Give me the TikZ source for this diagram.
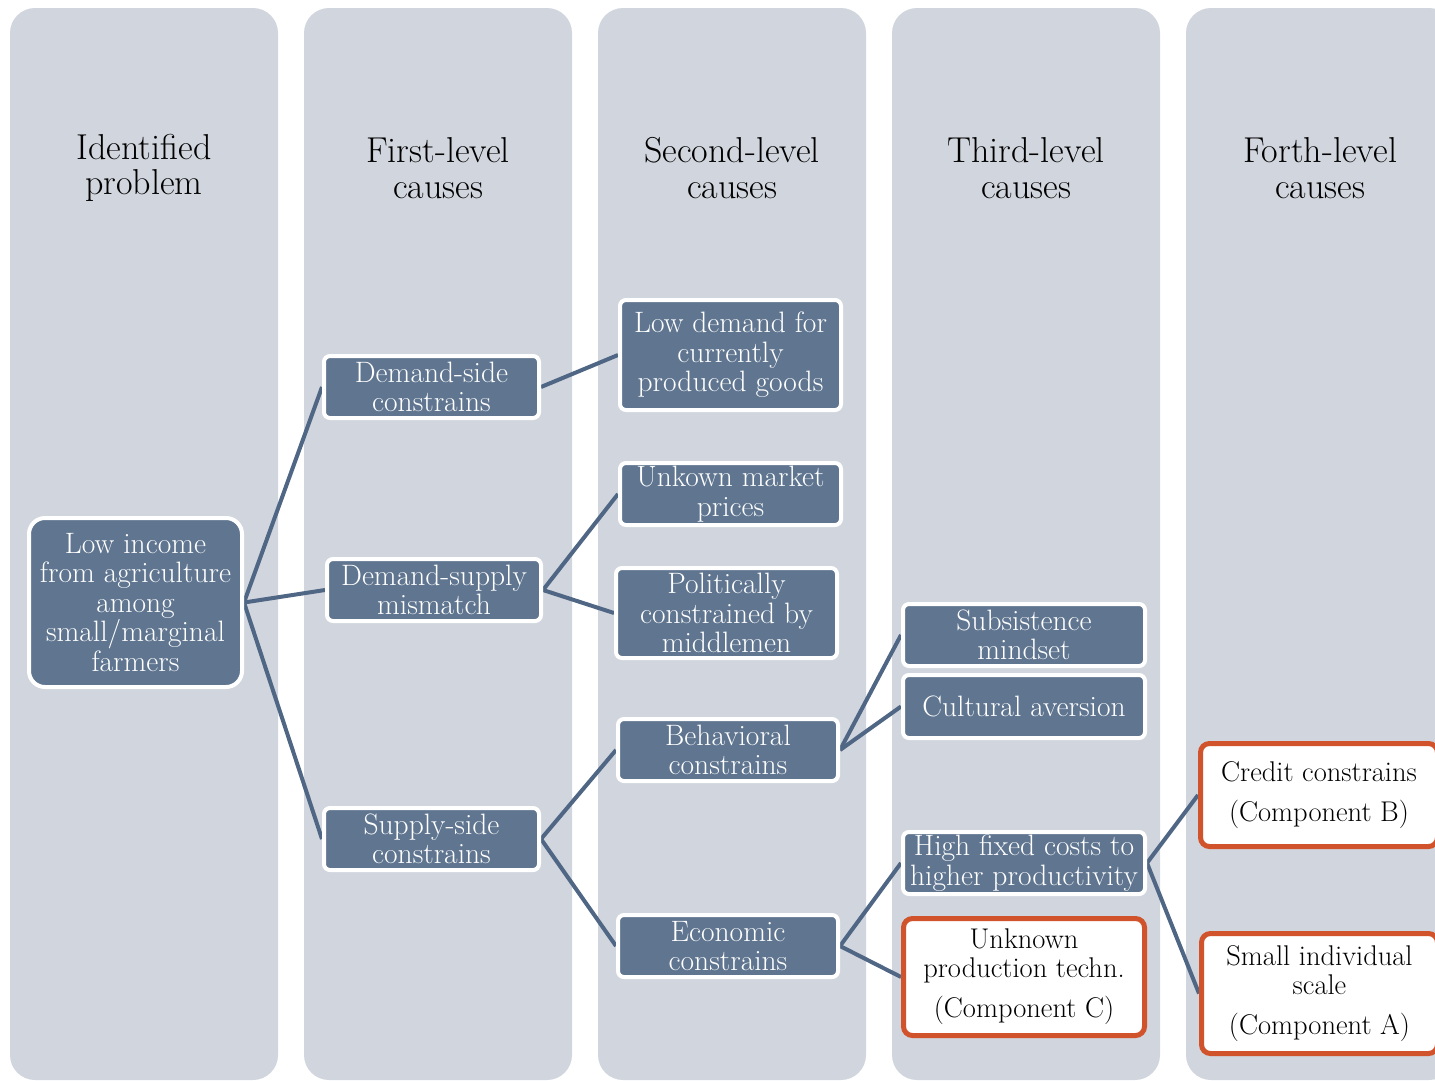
\documentclass[tikz,border=0pt]{standalone}
\pgfdeclarelayer{back}
\pgfdeclarelayer{lines}
\pgfsetlayers{back,lines,main}
\definecolor{colbg}{HTML}{D1D5DD}
\definecolor{slate}{HTML}{5F7590}
\definecolor{linec}{HTML}{4F6684}
\definecolor{orng}{HTML}{D0532B}
\tikzset{
  colbox/.style={fill=colbg, rounded corners=25pt},
  header/.style={align=center, font=\fontsize{36}{35.5}\selectfont, inner sep=0pt},
  cbox/.style={draw=white, line width=4pt, fill=slate, rounded corners=6pt, text=white,
    align=center, inner sep=0pt, font=\fontsize{29.5}{29.5}\selectfont},
  compbox/.style={draw=orng, line width=5pt, fill=white, rounded corners=9pt, text=black,
    align=center, inner sep=0pt, font=\fontsize{28.5}{29}\selectfont},
  conn/.style={draw=linec, line width=4pt}
}
\begin{document}
\begin{tikzpicture}[x=1pt,y=-1pt]
\useasboundingbox (0,0) rectangle (1435,1080);
\begin{pgfonlayer}{back}
\foreach \xx in {10,304,598,892,1186}{
  \path[colbox] (\xx,8) rectangle ++(268,1072);
}
\end{pgfonlayer}
% headers
\node[header] (h1) at (144,168) {Identified\\problem};
\node[header] (h2) at (438,168) {First-level\\causes};
\node[header] (h3) at (732,168) {Second-level\\causes};
\node[header] (h4) at (1026,168) {Third-level\\causes};
\node[header] (h5) at (1320,168) {Forth-level\\causes};
% boxes
\node[cbox, rounded corners=16pt, minimum width=213pt, minimum height=169pt] (low) at (135.5,602.5)
  {Low income\\from agriculture\\among\\small/marginal\\farmers};
\node[cbox, minimum width=215pt, minimum height=62pt] (ds) at (431.5,387) {Demand-side\\constrains};
\node[cbox, minimum width=214pt, minimum height=62pt] (dsm) at (434,590) {Demand-supply\\mismatch};
\node[cbox, minimum width=215pt, minimum height=62pt] (ss) at (431.5,839) {Supply-side\\constrains};
\node[cbox, minimum width=221pt, minimum height=110pt] (lowd) at (730.5,355) {Low demand for\\currently\\produced goods};
\node[cbox, minimum width=221pt, minimum height=62pt] (ump) at (730.5,494) {Unkown market\\prices};
\node[cbox, minimum width=221pt, minimum height=90pt] (pol) at (726.5,613) {Politically\\constrained by\\middlemen};
\node[cbox, minimum width=220pt, minimum height=62pt] (beh) at (728,750) {Behavioral\\constrains};
\node[cbox, minimum width=220pt, minimum height=62pt] (eco) at (728,946) {Economic\\constrains};
\node[cbox, minimum width=242pt, minimum height=62pt] (sub) at (1024,635) {Subsistence\\mindset};
\node[cbox, minimum width=242pt, minimum height=63pt] (cult) at (1024,706.5) {Cultural aversion};
\node[cbox, minimum width=242pt, minimum height=62pt] (hfc) at (1024,863) {High fixed costs to\\higher productivity};
\node[compbox, minimum width=241pt, minimum height=117pt] (upt) at (1024,977)
  {Unknown\\production techn.\\[11pt](Component C)};
\node[compbox, minimum width=237pt, minimum height=103pt] (cc) at (1319,795)
  {Credit constrains\\[11pt](Component B)};
\node[compbox, minimum width=236pt, minimum height=120pt] (sis) at (1319.5,993.5)
  {Small individual\\scale\\[11pt](Component A)};
% connectors
\begin{pgfonlayer}{lines}
\draw[conn] (low.east) -- (ds.west);
\draw[conn] (low.east) -- (dsm.west);
\draw[conn] (low.east) -- (ss.west);
\draw[conn] (ds.east) -- (lowd.west);
\draw[conn] (dsm.east) -- (ump.west);
\draw[conn] (dsm.east) -- (pol.west);
\draw[conn] (ss.east) -- (beh.west);
\draw[conn] (ss.east) -- (eco.west);
\draw[conn] (beh.east) -- (sub.west);
\draw[conn] (beh.east) -- (cult.west);
\draw[conn] (eco.east) -- (hfc.west);
\draw[conn] (eco.east) -- (upt.west);
\draw[conn] (hfc.east) -- (cc.west);
\draw[conn] (hfc.east) -- (sis.west);
\end{pgfonlayer}
\end{tikzpicture}
\end{document}
